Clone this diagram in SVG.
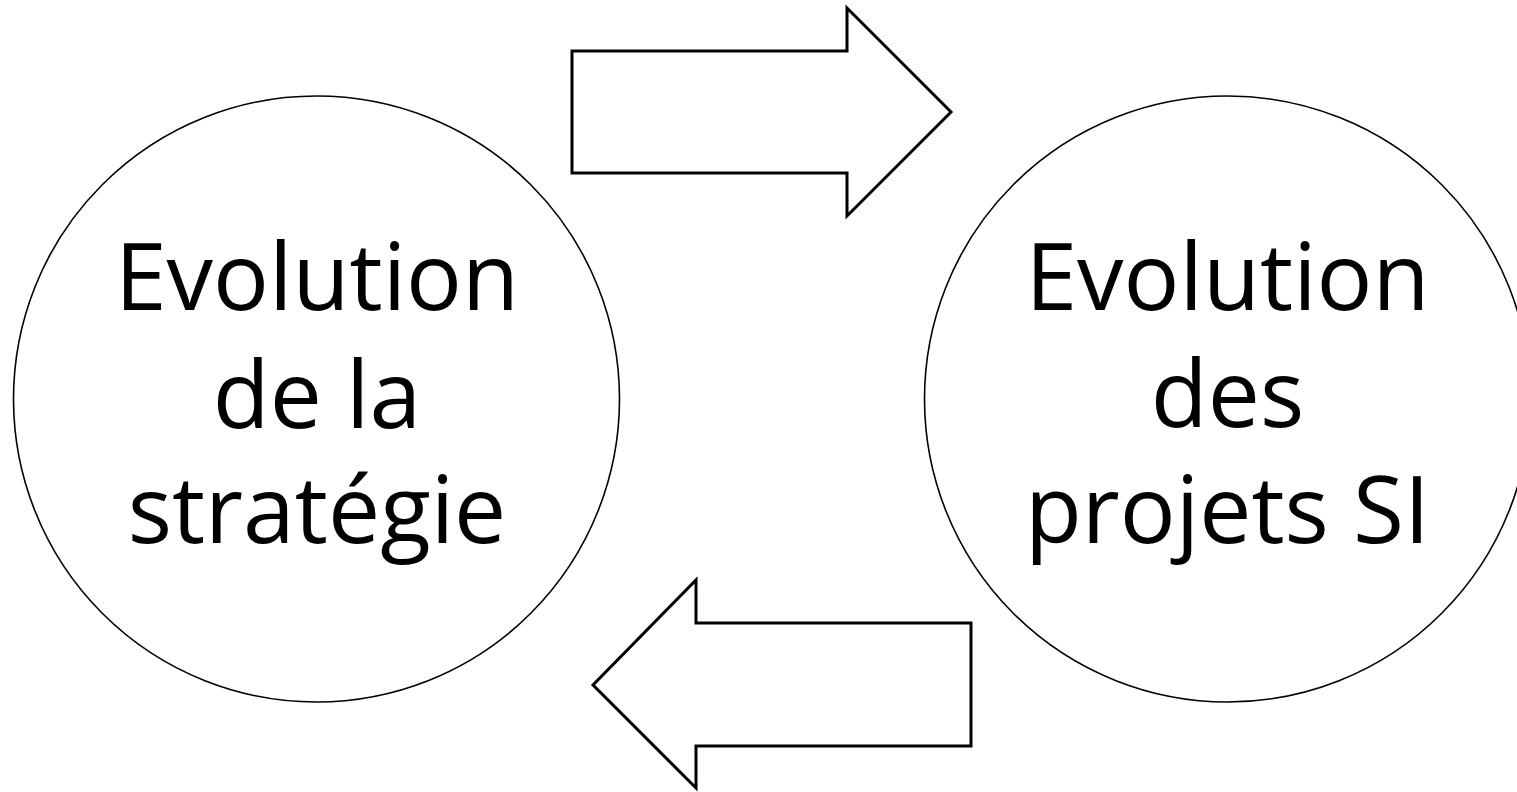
<svg xmlns="http://www.w3.org/2000/svg" width="1517" height="792" viewBox="0 0 1517 792">
<style>
.circ{fill:#fff;stroke:#000;stroke-width:1.6}
.arr{fill:#fff;stroke:#000;stroke-width:3;stroke-linejoin:miter}
.lbl{font-family:"Open Sans","Noto Sans","Liberation Sans",sans-serif;font-size:93px;fill:#000;text-anchor:middle}
</style>
<rect width="1517" height="792" fill="#fff"/>
<g id="node-strategie">
<circle class="circ" cx="316.5" cy="399" r="303"/>
<text class="lbl" x="317" y="310">Evolution</text>
<text class="lbl" x="317" y="428">de la</text>
<text class="lbl" x="317" y="543">stratégie</text>
</g>
<g id="node-projets">
<circle class="circ" cx="1227.5" cy="399" r="303"/>
<text class="lbl" x="1227.5" y="310">Evolution</text>
<text class="lbl" x="1227.5" y="427">des</text>
<text class="lbl" x="1227.5" y="543">projets SI</text>
</g>
<g id="connectors">
<polygon class="arr" points="572,51 847,51 847,8 951,112 847,216 847,173 572,173"/>
<polygon class="arr" points="971,623 696,623 696,580 593,685 696,788 696,746 971,746"/>
</g>
</svg>
